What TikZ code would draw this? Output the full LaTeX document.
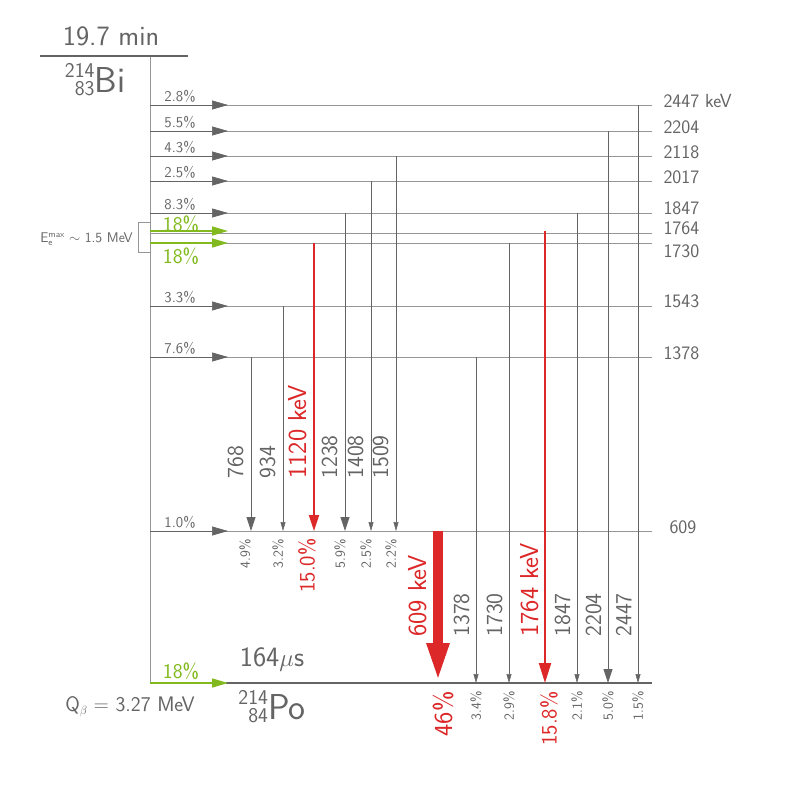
\documentclass[tikz,border=0pt]{standalone}
\usetikzlibrary{arrows.meta}
\definecolor{g}{RGB}{100,100,100}
\definecolor{lg}{RGB}{150,150,150}
\definecolor{rd}{RGB}{220,40,40}
\definecolor{gr}{RGB}{130,185,30}
\newcommand{\iso}[3]{{\fontsize{21}{21}\selectfont\shortstack[r]{#1\\[1pt]#2}}\raisebox{3pt}{#3}}
\begin{document}
\sffamily
\begin{tikzpicture}[x=1pt,y=-1pt,
  lev/.style={draw=lg,line width=0.6pt},
  beta/.style={draw=lg,line width=0.6pt,-{Triangle[length=16pt,width=9pt]},shorten >=0pt},
  pct/.style={text=g,font=\fontsize{15}{15}\selectfont,anchor=south},
  en/.style={text=g,font=\fontsize{19}{19}\selectfont,anchor=west},
  gthin/.style={draw=g,line width=0.5pt,-{Triangle[length=9pt,width=5pt]}},
  gmed/.style={draw=g,line width=0.8pt,-{Triangle[length=14pt,width=9pt]}},
  rlab/.style={rotate=90,font=\fontsize{14}{14}\selectfont,text=g},
  elab/.style={rotate=90,font=\fontsize{23}{23}\selectfont,text=g}]
\useasboundingbox (0,0) rectangle (787,787);
% parent
\draw[g,line width=1.5pt] (40,56) -- (188,56);
\node[text=g,font=\fontsize{28}{28}\selectfont] (t) at (111,36) {19.7 min};
\node[text=g,font=\fontsize{36}{36}\selectfont] (bi) at (95,80) {\iso{214}{83}{Bi}};
\draw[lg,line width=0.8pt] (150,57) -- (150,683);
% levels
\foreach \y/\p [count=\i] in {105/2.8\%,131/5.5\%,156/4.3\%,181/2.5\%,213/8.3\%,306/3.3\%,357/7.6\%,531/1.0\%}{
  \draw[lev] (150,\y) -- (652,\y);
  \coordinate (s\i) at (150,\y);
  \coordinate (t\i) at (228,\y);
  \draw[beta,color=g] (s\i) -- (t\i);
  \node[pct] at (180,\y+1) {\p};
}
\node[en] at (660,101) {2447 keV};
\node[en] at (660,127) {2204};
\node[en] at (660,152) {2118};
\node[en] at (660,177) {2017};
\node[en] at (660,208) {1847};
\node[en] at (660,228) {1764};
\node[en] at (660,251) {1730};
\node[en] at (660,301) {1543};
\node[en] at (660,353) {1378};
\node[en] at (666,527) {609};
% green levels
\draw[lev] (150,233) -- (652,233);
\draw[lev] (150,243) -- (652,243);
\draw[gr,line width=1.5pt,-{Triangle[length=16pt,width=9pt]}] (150,231) -- (228,231);
\draw[gr,line width=1.5pt,-{Triangle[length=16pt,width=9pt]}] (150,243) -- (228,243);
\node[text=gr,font=\fontsize{21}{21}\selectfont] at (181,224) {18\%};
\node[text=gr,font=\fontsize{21}{21}\selectfont] at (181,256) {18\%};
\draw[lg,line width=0.5pt] (150,222) -- (138,222) -- (138,252) -- (150,252);
\node[text=g,font=\fontsize{14}{14}\selectfont,anchor=east,inner sep=1pt] at (134,239) {E\raisebox{-3pt}{\makebox[0pt][l]{\fontsize{9}{9}\selectfont e}}\raisebox{5pt}{\fontsize{9}{9}\selectfont max} $\sim$ 1.5 MeV};
% ground
\draw[g,line width=1.8pt] (226,683) -- (652,683);
\draw[gr,line width=1.5pt,-{Triangle[length=16pt,width=9pt]}] (150,683) -- (228,683);
\node[text=gr,font=\fontsize{21}{21}\selectfont] at (181,671) {18\%};
\node[text=g,font=\fontsize{21}{21}\selectfont] at (130,707) {Q\raisebox{-3pt}{\fontsize{13}{13}\selectfont$\beta$} = 3.27 MeV};
\node[text=g,font=\fontsize{28}{28}\selectfont] at (272,660) {164$\mu$s};
\node[text=g,font=\fontsize{36}{36}\selectfont] at (272,707) {\iso{214}{84}{Po}};
% gammas to 609
\draw[gmed] (251,357) -- (251,531);
\node[elab,anchor=south west] at (247,482) {768};
\node[rlab,anchor=east] at (245,536) {4.9\%};
\draw[gthin] (283,306) -- (283,531);
\node[elab,anchor=south west] at (279,482) {934};
\node[rlab,anchor=east] at (278,536) {3.2\%};
\draw[rd,line width=2pt,-{Triangle[length=16pt,width=10pt]}] (314,243) -- (314,531);
\node[elab,text=rd,font=\fontsize{26}{26}\selectfont,anchor=south west] at (310,482) {1120 keV};
\node[rlab,text=rd,font=\fontsize{22}{22}\selectfont,anchor=east] at (307,535) {15.0\%};
\draw[gmed] (345,213) -- (345,531);
\node[elab,anchor=south west] at (341,482) {1238};
\node[rlab,anchor=east] at (340,536) {5.9\%};
\draw[gthin] (371,181) -- (371,531);
\node[elab,anchor=south west] at (367,482) {1408};
\node[rlab,anchor=east] at (366,536) {2.5\%};
\draw[gthin] (396,156) -- (396,531);
\node[elab,anchor=south west] at (392,482) {1509};
\node[rlab,anchor=east] at (391,536) {2.2\%};
% gammas to ground
\draw[rd,line width=10pt,-{Triangle[length=40pt,width=20pt]}] (438,531) -- (438,683);
\node[elab,text=rd,font=\fontsize{26}{26}\selectfont,anchor=south west] at (430,640) {609 keV};
\node[rlab,text=rd,font=\fontsize{26}{26}\selectfont,anchor=east] at (443,688) {46\%};
\foreach \x/\yy/\e/\p/\st in {476/357/1378/3.4\%/gthin,509/243/1730/2.9\%/gthin,577/213/1847/2.1\%/gthin,608/131/2204/5.0\%/gmed,638/105/2447/1.5\%/gthin}{
  \draw[\st] (\x,\yy) -- (\x,683);
  \node[elab,anchor=south west] at (\x-3,640) {\e};
  \node[rlab,anchor=east] at (\x,688) {\p};
}
\draw[rd,line width=2pt,-{Triangle[length=20pt,width=12pt]}] (545,231) -- (545,683);
\node[elab,text=rd,font=\fontsize{26}{26}\selectfont,anchor=south west] at (542,640) {1764 keV};
\node[rlab,text=rd,font=\fontsize{22}{22}\selectfont,anchor=east] at (549,688) {15.8\%};
\end{tikzpicture}
\end{document}
